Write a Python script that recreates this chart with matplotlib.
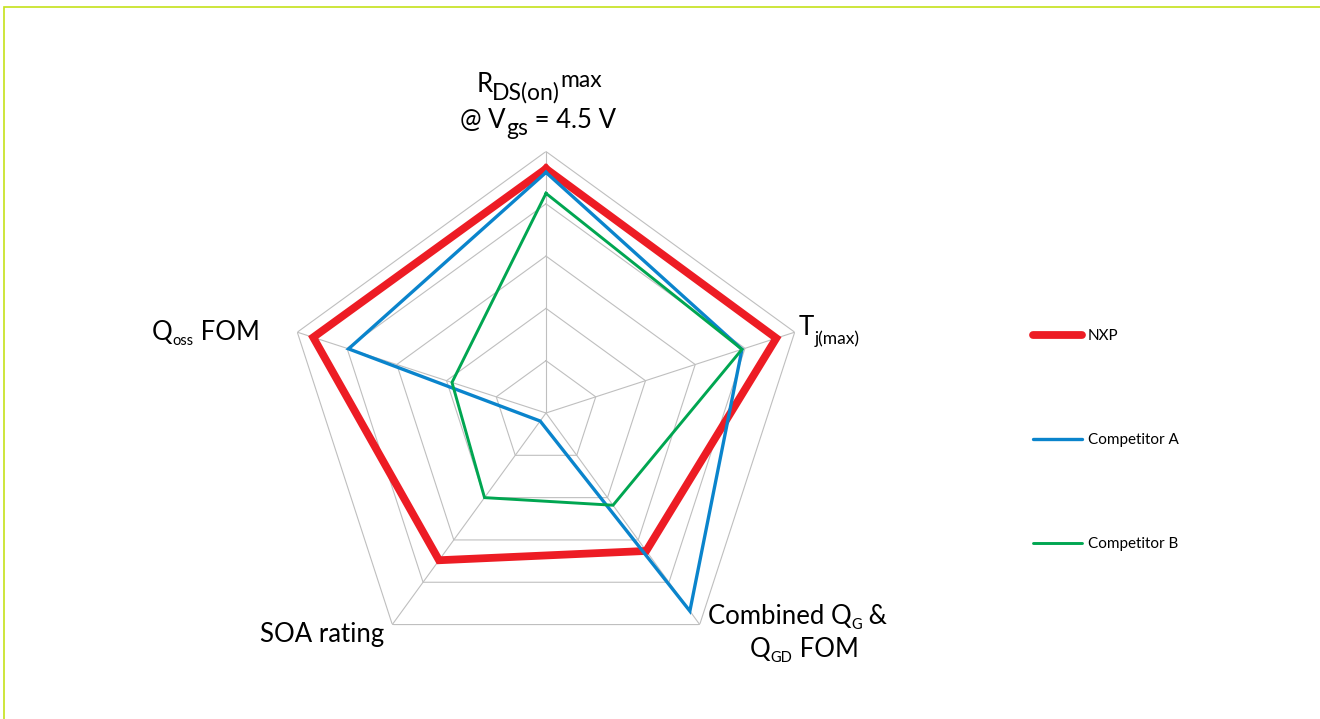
import numpy as np
import matplotlib
matplotlib.use('Agg')
import matplotlib.pyplot as plt
from matplotlib.lines import Line2D
from matplotlib.patches import Rectangle

plt.rcParams['font.family'] = ['Lato', 'DejaVu Sans']

# axes, clockwise from the top
axes_names = ['RDS(on)max', 'Tj(max)', 'Combined QG & QGD FOM', 'SOA rating', 'Qoss FOM']
series_names = ['NXP', 'Competitor A', 'Competitor B']
nxp = [4.67, 4.63, 3.26, 3.48, 4.68]
comp_a = [4.6, 3.94, 4.68, 0.19, 3.97]
comp_b = [4.2, 3.94, 2.18, 2.0, 1.89]
rings = [1, 2, 3, 4, 5]

colors = ['#ED1C24', '#0A84CC', '#00A651']
widths = [5.6, 2.4, 2.1]

W, H = 1320, 719
fig = plt.figure(figsize=(W / 100, H / 100), dpi=100)

# centre (546, 413) px, radius 261.5 px
cx, cy, R = 546, 413, 261.5
ax = fig.add_axes([(cx - R) / W, 1 - (cy + R) / H, 2 * R / W, 2 * R / H], projection='polar')
ax.set_theta_offset(np.pi / 2)
ax.set_theta_direction(-1)
ax.set_ylim(0, 5)
ax.grid(False)
ax.spines['polar'].set_visible(False)
ax.set_xticks([])
ax.set_yticks([])
ax.patch.set_visible(False)

n = len(axes_names)
theta = np.arange(n) * 2 * np.pi / n
theta_c = np.append(theta, theta[0])

# pentagon grid
for r in rings:
    ax.plot(theta_c, [r] * (n + 1), color='#BFBFBF', lw=0.8, zorder=1)
for t in theta:
    ax.plot([t, t], [0, rings[-1]], color='#BFBFBF', lw=0.8, zorder=1)

handles = []
for vals, name, c, lw in zip([nxp, comp_a, comp_b], series_names, colors, widths):
    v = np.append(vals, vals[0])
    ax.plot(theta_c, v, color=c, lw=lw, solid_joinstyle='miter', zorder=3)
    handles.append(Line2D([], [], color=c, lw=lw, solid_capstyle='round', label=name))

# labels made of pieces (text, size, baseline shift in px)
renderer = fig.canvas.get_renderer()
def rich(x, y, pieces, ha='left'):
    placed = []
    cur = 0
    for s, size, dy in pieces:
        t = fig.text(0, 0, s, fontsize=size, ha='left', va='baseline')
        placed.append((t, cur, dy))
        cur += t.get_window_extent(renderer).width
    off = -cur / 2 if ha == 'center' else 0
    for t, xo, dy in placed:
        t.set_position(((x + off + xo) / W, 1 - (y + dy) / H))

fs = 18.5
sub = 10.5
rich(539, 92, [('R', fs, 0), ('DS(on)', 16.5, 8), ('max', 16.5, -5)], ha='center')
rich(538, 128, [('@ V', fs, 0), ('gs', 16.5, 7), (' = 4.5 V', fs, 0)], ha='center')
rich(799, 335, [('T', fs, 0), ('j(max)', 12.5, 9)])
rich(152, 340, [('Q', fs, 0), ('oss', sub, 5), (' FOM', fs, 0)])
rich(260, 642, [('SOA rating', fs, 0)])
rich(708, 624, [('Combined Q', fs, 0), ('G', sub, 5), (' &', fs, 0)])
rich(750, 657, [('Q', fs, 0), ('GD', sub, 5), (' FOM', fs, 0)])

fig.legend(handles=handles, loc='center left', bbox_to_anchor=(1033 / W, 1 - 440 / H),
           frameon=False, fontsize=11, handlelength=3.2, handletextpad=0.4,
           labelspacing=5.9, borderpad=0, borderaxespad=0)

# thin yellow-green frame along the top and left edges
fig.add_artist(Rectangle((4 / W, -0.1), 1.2, 1 - 7 / H + 0.1, transform=fig.transFigure,
                         fill=False, edgecolor='#C5E21A', lw=1.2))

fig.savefig('out.png', dpi=100)
